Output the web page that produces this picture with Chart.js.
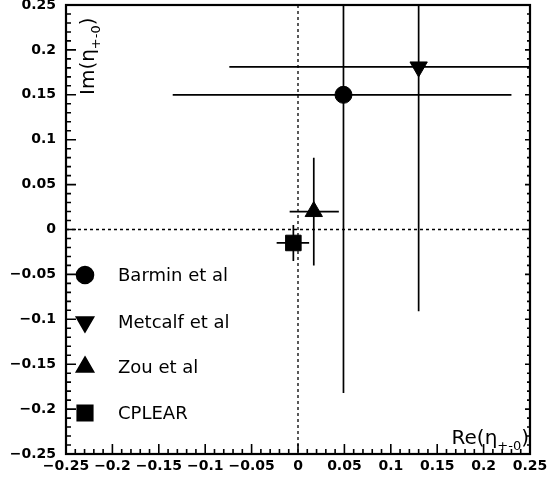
<!DOCTYPE html>
<html>
<head>
<meta charset="utf-8">
<script src="https://cdn.jsdelivr.net/npm/chart.js@4"></script>
<style>
  html, body { margin: 0; padding: 0; background: #fff; }
  #wrap { width: 551px; height: 477px; }
</style>
</head>
<body>
<div id="wrap"><canvas id="etaChart" width="551" height="477"></canvas></div>
<script>
const experiments = ['Barmin et al', 'Metcalf et al', 'Zou et al', 'CPLEAR'];
const reVals = [0.049, 0.13, 0.017, -0.005];
const imVals = [0.15, 0.181, 0.02, -0.015];
const reLo = [-0.135, -0.074, -0.009, -0.023];
const reHi = [0.23, 0.25, 0.044, 0.012];
const imLo = [-0.182, -0.091, -0.04, -0.035];
const imHi = [0.25, 0.25, 0.08, 0.005];
const markers = ['circle', 'triangle', 'triangle', 'rect'];
const markerRot = [0, 180, 0, 0];
const markerSize = [8.5, 10, 10, 11];
const tickValues = [-0.25, -0.2, -0.15, -0.1, -0.05, 0, 0.05, 0.1, 0.15, 0.2, 0.25];

const fmt = v => {
    const r = Math.round(v * 100) / 100;
    if (r === 0) return '0';
    const s = String(Math.abs(r));
    return (r < 0 ? '\u2212' : '') + s;
};

const datasets = experiments.map((name, i) => ({
    label: name,
    data: [{ x: reVals[i], y: imVals[i] }],
    pointStyle: markers[i],
    rotation: markerRot[i],
    pointRadius: markerSize[i],
    pointHoverRadius: markerSize[i],
    backgroundColor: '#000',
    borderColor: '#000',
    borderWidth: 1
}));

const frame = {
    id: 'frame',
    beforeDatasetsDraw(chart) {
        const { ctx, chartArea: a, scales: { x, y } } = chart;
        ctx.save();
        // dashed zero lines
        ctx.strokeStyle = '#000';
        ctx.lineWidth = 1.3;
        ctx.setLineDash([3, 3]);
        ctx.beginPath();
        ctx.moveTo(x.getPixelForValue(0), a.top);
        ctx.lineTo(x.getPixelForValue(0), a.bottom);
        ctx.moveTo(a.left, y.getPixelForValue(0));
        ctx.lineTo(a.right, y.getPixelForValue(0));
        ctx.stroke();
        ctx.setLineDash([]);

        // error bars
        ctx.lineWidth = 1.7;
        experiments.forEach((_, i) => {
            const px = x.getPixelForValue(reVals[i]);
            const py = y.getPixelForValue(imVals[i]);
            ctx.beginPath();
            ctx.moveTo(x.getPixelForValue(reLo[i]), py);
            ctx.lineTo(x.getPixelForValue(reHi[i]), py);
            ctx.moveTo(px, y.getPixelForValue(imLo[i]));
            ctx.lineTo(px, y.getPixelForValue(imHi[i]));
            ctx.stroke();
        });
        ctx.restore();
    },
    afterDraw(chart) {
        const { ctx, chartArea: a, scales: { x, y } } = chart;
        ctx.save();
        ctx.strokeStyle = '#000';
        ctx.lineWidth = 2.2;
        ctx.strokeRect(a.left, a.top, a.right - a.left, a.bottom - a.top);

        // inward ticks, minor every 0.01
        ctx.lineWidth = 1.6;
        ctx.beginPath();
        for (let k = -25; k <= 25; k++) {
            const len = k % 5 === 0 ? 10 : 5;
            const px = x.getPixelForValue(k / 100);
            ctx.moveTo(px, a.bottom);
            ctx.lineTo(px, a.bottom - len);
            const py = y.getPixelForValue(k / 100);
            ctx.moveTo(a.left, py);
            ctx.lineTo(a.left + len, py);
            ctx.moveTo(a.right, py);
            ctx.lineTo(a.right - (k % 5 === 0 ? 5 : 3), py);
        }
        ctx.stroke();

        // legend inside the plot
        ctx.fillStyle = '#000';
        ctx.font = '18px "DejaVu Sans"';
        ctx.textBaseline = 'middle';
        const rows = [275, 322, 367, 413];
        experiments.forEach((name, i) => {
            Chart.helpers.drawPoint(ctx, {
                pointStyle: markers[i],
                rotation: markerRot[i],
                radius: markerSize[i],
                borderWidth: 1
            }, a.left + 19, rows[i]);
            ctx.fillText(name, a.left + 52, rows[i] + 1);
        });

        // axis titles with subscripts
        const title = (main, sub) => {
            ctx.font = '20px "DejaVu Sans"';
            const w1 = ctx.measureText(main).width;
            ctx.font = '13px "DejaVu Sans"';
            const w2 = ctx.measureText(sub).width;
            ctx.font = '20px "DejaVu Sans"';
            const w3 = ctx.measureText(')').width;
            return { w: w1 + w2 + w3, draw(x0, y0) {
                ctx.font = '20px "DejaVu Sans"';
                ctx.fillText(main, x0, y0);
                ctx.font = '13px "DejaVu Sans"';
                ctx.fillText(sub, x0 + w1, y0 + 6);
                ctx.font = '20px "DejaVu Sans"';
                ctx.fillText(')', x0 + w1 + w2, y0);
            } };
        };
        ctx.textBaseline = 'alphabetic';
        const re = title('Re(\u03b7', '+-0');
        re.draw(a.right - re.w - 1, a.bottom - 10);
        ctx.translate(a.left + 28, a.top + 90);
        ctx.rotate(-Math.PI / 2);
        const im = title('Im(\u03b7', '+-0');
        im.draw(0, 0);
        ctx.restore();
    }
};

const tickFont = { family: '"DejaVu Sans"', size: 14, weight: 'bold' };
const noPad = s => { s.paddingTop = 0; s.paddingBottom = 0; s.paddingLeft = 0; s.paddingRight = 0; };

new Chart(document.getElementById('etaChart'), {
    type: 'scatter',
    data: { datasets },
    options: {
        responsive: false,
        animation: false,
        events: [],
        layout: { autoPadding: false, padding: { top: 5, right: 21, left: 0, bottom: 0 } },
        plugins: { legend: { display: false }, tooltip: { enabled: false } },
        scales: {
            x: {
                type: 'linear',
                min: -0.25,
                max: 0.25,
                afterBuildTicks: s => { s.ticks = tickValues.map(v => ({ value: v })); },
                afterFit: s => { s.height = 23; noPad(s); },
                grid: { display: false, drawTicks: false },
                border: { display: false },
                ticks: { color: '#000', font: tickFont, padding: 4, maxRotation: 0, autoSkip: false, callback: v => fmt(v) }
            },
            y: {
                type: 'linear',
                min: -0.25,
                max: 0.25,
                afterBuildTicks: s => { s.ticks = tickValues.map(v => ({ value: v })); },
                afterFit: s => { s.width = 66; noPad(s); },
                grid: { display: false, drawTicks: false },
                border: { display: false },
                ticks: { color: '#000', font: tickFont, padding: 10, autoSkip: false, callback: v => fmt(v) }
            }
        }
    },
    plugins: [frame]
});
</script>
</body>
</html>
